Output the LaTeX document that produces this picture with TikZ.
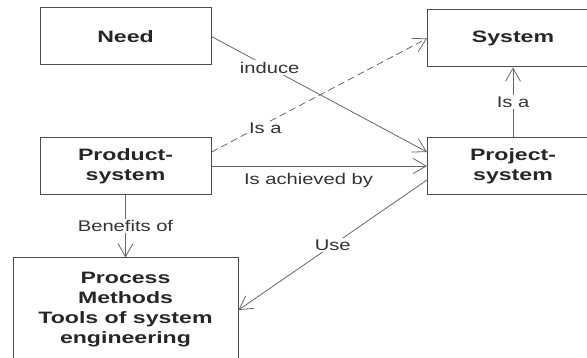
\documentclass[tikz,border=0pt]{standalone}
\usepackage{fontspec}
\setmainfont{Liberation Sans}
\newfontfamily\boxfont[FakeStretch=1.4]{Liberation Sans}
\newfontfamily\lblfont[FakeStretch=1.3]{Liberation Sans}
\usetikzlibrary{arrows.meta}

\tikzset{
	box/.style={draw=black!70, line width=1pt, minimum width=171pt, minimum height=57pt, inner sep=0pt, align=center, text=black!85, font=\boxfont\bfseries\fontsize{16.5}{20}\selectfont},
	link/.style={draw=black!60, line width=0.8pt, -{Straight Barb[length=13pt,width=15pt]}},
	lbl/.style={fill=white, inner sep=1.5pt, text=black!80, font=\lblfont\fontsize{15.5}{18}\selectfont}
}

\begin{document}
\begin{tikzpicture}[x=1pt, y=-1pt]
		\clip (0, 0) rectangle (587, 358);
		% the five blocks
		\node [box] (need) at (125.5, 36.5) {Need};
		\node [box] (sys) at (513, 38.5) {System};
		\node [box] (prod) at (125.5, 166) {Product-\\system};
		\node [box] (proj) at (513, 166) {Project-\\system};
		\node [box, minimum width=225pt, minimum height=104pt] (proc) at (125.5, 310) {Process\\Methods\\Tools of system\\engineering};
		% relations
		\draw [link] (need.east) -- ([yshift=14pt]proj.west) node [lbl, pos=0.27] {induce};
		\draw [link, dash pattern=on 7pt off 4pt] ([yshift=14pt]prod.east) -- (sys.west) node [lbl, pos=0.25, yshift=-5pt] {Is a};
		\draw [link] (prod.east) -- (proj.west) node [lbl, pos=0.45, yshift=-14pt] {Is achieved by};
		\draw [link] (proj.north) -- (sys.south) node [lbl, midway] {Is a};
		\draw [link] (prod.south) -- (proc.north) node [lbl, midway] {Benefits of};
		\draw [link] ([yshift=-14pt]proj.west) -- (proc.east) node [lbl, pos=0.5] {Use};
	\end{tikzpicture}
\end{document}
